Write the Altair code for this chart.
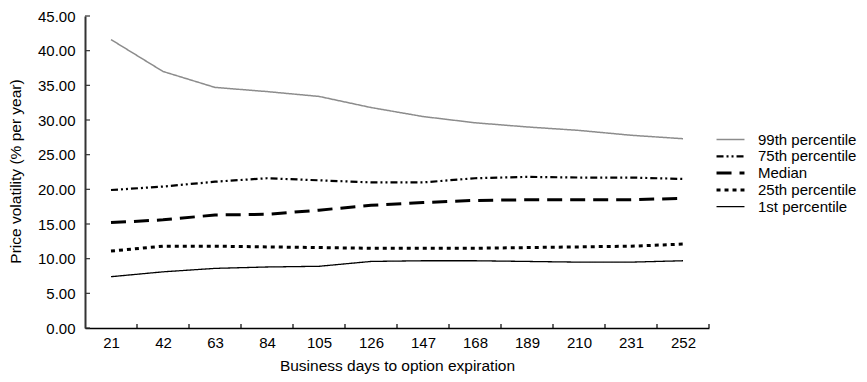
import altair as alt
import pandas as pd

days = [21, 42, 63, 84, 105, 126, 147, 168, 189, 210, 231, 252]
p99 = [41.6, 37.0, 34.7, 34.1, 33.4, 31.8, 30.5, 29.6, 29.0, 28.5, 27.8, 27.3]
p75 = [19.9, 20.4, 21.1, 21.6, 21.3, 21.0, 21.0, 21.6, 21.8, 21.7, 21.7, 21.5]
p50 = [15.2, 15.6, 16.3, 16.4, 17.0, 17.7, 18.1, 18.4, 18.5, 18.5, 18.5, 18.7]
p25 = [11.1, 11.8, 11.8, 11.7, 11.6, 11.5, 11.5, 11.5, 11.6, 11.7, 11.8, 12.1]
p01 = [7.4, 8.1, 8.6, 8.8, 8.9, 9.6, 9.7, 9.7, 9.6, 9.5, 9.5, 9.7]

series_names = ["99th percentile", "75th percentile", "Median", "25th percentile", "1st percentile"]
series_values = [p99, p75, p50, p25, p01]

y_ticks = [0, 5, 10, 15, 20, 25, 30, 35, 40, 45]
x_tick_bounds = [31.5, 52.5, 73.5, 94.5, 115.5, 136.5, 157.5, 178.5, 199.5, 220.5, 241.5, 262.5]

rows = []
for name, vals in zip(series_names, series_values):
    for d, v in zip(days, vals):
        rows.append({"days": d, "vol": v, "series": name})
df = pd.DataFrame(rows)

FONT = "Liberation Sans"
W, H = 624, 312

legend = alt.Legend(
    title=None, orient="none", legendX=638, legendY=116,
    symbolType="M-2.33,0L2.33,0", symbolSize=144, labelFontSize=15,
    labelFont=FONT, labelColor="black", rowPadding=0.8, padding=0,
    labelOffset=20, symbolFillColor="transparent", labelLimit=200,
)

xscale = alt.Scale(domain=[10.5, 262.5], nice=False, zero=False)
yscale = alt.Scale(domain=[0, 45], nice=False)

xaxis = alt.Axis(values=days, tickSize=0, grid=False, labelFontSize=15,
                 labelFont=FONT, labelColor="black", labelPadding=7,
                 labelOverlap=False,
                 domainColor="black", domainWidth=1.5,
                 title="Business days to option expiration",
                 titleFont=FONT, titleFontSize=15.5, titleFontWeight="normal",
                 titleColor="black", titleY=42, titleBaseline="alphabetic")
yaxis = alt.Axis(values=y_ticks, format=".2f", tickSize=0, grid=False,
                 labelFontSize=15, labelFont=FONT, labelColor="black",
                 labelOverlap=False,
                 labelPadding=10, domainColor="#333", domainWidth=2,
                 title="Price volatility (% per year)",
                 titleFont=FONT, titleFontSize=15.5, titleFontWeight="normal",
                 titleColor="black", titleX=-70, titleY=155,
                 titleBaseline="middle", titleAngle=-90)

lines = alt.Chart(df).mark_line(clip=False).encode(
    x=alt.X("days:Q", scale=xscale, axis=xaxis),
    y=alt.Y("vol:Q", scale=yscale, axis=yaxis),
    color=alt.Color("series:N", scale=alt.Scale(domain=series_names,
                    range=["#8c8c8c", "black", "black", "black", "black"]), legend=legend),
    strokeDash=alt.StrokeDash("series:N", scale=alt.Scale(domain=series_names,
                    range=[[1, 0], [7, 3, 2, 3, 2, 3], [15, 8], [4, 4], [1, 0]]), legend=legend),
    strokeWidth=alt.StrokeWidth("series:N", scale=alt.Scale(type="ordinal", domain=series_names,
                    range=[1.5, 2.2, 3, 3, 1.3]), legend=legend),
)

yt = pd.DataFrame({"v": y_ticks})
ytick_layer = alt.Chart(yt).mark_rule(color="#333", strokeWidth=1.2).encode(
    y=alt.Y("v:Q", scale=yscale, axis=yaxis), x=alt.value(0), x2=alt.value(5)
)
xt = pd.DataFrame({"d": x_tick_bounds})
xtick_layer = alt.Chart(xt).mark_rule(color="black", strokeWidth=1.2).encode(
    x=alt.X("d:Q", scale=xscale, axis=xaxis), y=alt.value(H), y2=alt.value(H - 4)
)

chart = alt.layer(lines, ytick_layer, xtick_layer).properties(
    width=W, height=H,
    autosize=alt.AutoSizeParams(type="none"),
    padding={"left": 77, "top": 8, "right": 150, "bottom": 46},
).configure(background="white").configure_view(stroke=None)

chart.save("out.html", embed_options={"renderer": "svg", "actions": False})
